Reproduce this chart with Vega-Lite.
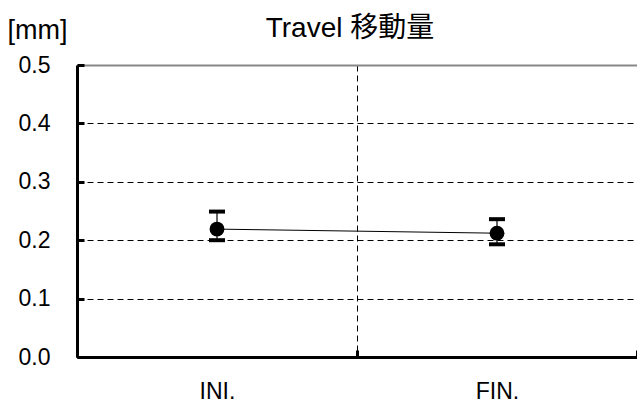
{
  "$schema": "https://vega.github.io/schema/vega-lite/v6.json",
  "width": 560,
  "height": 292,
  "autosize": "none",
  "padding": {"left": 77, "top": 65, "right": 0, "bottom": 55},
  "background": "white",
  "config": {
    "view": {"stroke": null},
    "font": "Liberation Sans, Noto Sans CJK JP",
    "axis": {"labelFont": "Liberation Sans", "titleFont": "Liberation Sans"}
  },
  "title": {
    "text": "Travel 移動量",
    "fontSize": 28,
    "fontWeight": "normal",
    "color": "black",
    "anchor": "middle",
    "offset": -27,
    "dx": -7,
    "font": "Liberation Sans, Noto Sans CJK JP"
  },
  "data": {
    "values": [
      {"stage": "INI.", "mean": 0.219, "lo": 0.200, "hi": 0.249},
      {"stage": "FIN.", "mean": 0.212, "lo": 0.193, "hi": 0.236}
    ]
  },
  "encoding": {
    "x": {
      "field": "stage",
      "type": "nominal",
      "sort": ["INI.", "FIN."],
      "scale": {"type": "band", "paddingInner": 0, "paddingOuter": 0},
      "axis": {
        "title": null,
        "tickBand": "extent",
        "labelAngle": 0,
        "labelFontSize": 23,
        "labelColor": "black",
        "labelPadding": 30,
        "domainColor": "black",
        "domainWidth": 3,
        "ticks": true,
        "tickSize": -7,
        "tickWidth": 3,
        "tickColor": "black",
        "grid": true,
        "gridColor": "black",
        "gridDash": [6, 4],
        "gridWidth": 1,
        "zindex": 1
      }
    }
  },
  "layer": [
    {
      "mark": {"type": "rule", "color": "#666666", "strokeWidth": 2},
      "encoding": {
        "y": {
          "field": "lo",
          "type": "quantitative",
          "scale": {"domain": [0, 0.5], "nice": false},
          "axis": {
            "title": "[mm]",
            "titleAngle": 0,
            "titleX": -40,
            "titleY": -35,
            "titleAlign": "center",
            "titleBaseline": "middle",
            "titleFontSize": 27,
            "titleFontWeight": "normal",
            "titleColor": "black",
            "values": [0, 0.1, 0.2, 0.3, 0.4, 0.5],
            "format": ".1f",
            "labelFontSize": 23,
            "labelColor": "black",
            "labelPadding": 34,
            "labelBaseline": "middle",
            "domainColor": "black",
            "domainWidth": 3,
            "tickSize": -7,
            "tickWidth": 3,
            "tickColor": "black",
            "grid": true,
            "gridColor": {"condition": {"test": "datum.value >= 0.5", "value": "#888888"}, "value": "black"},
            "gridDash": {"condition": {"test": "datum.value >= 0.5", "value": []}, "value": [6, 4]},
            "gridWidth": {"condition": {"test": "datum.value >= 0.5", "value": 2}, "value": 1},
            "zindex": 1
          }
        },
        "y2": {"field": "hi"}
      }
    },
    {
      "mark": {"type": "tick", "orient": "horizontal", "color": "black", "size": 16, "thickness": 4, "opacity": 1},
      "encoding": {"y": {"field": "lo", "type": "quantitative"}}
    },
    {
      "mark": {"type": "tick", "orient": "horizontal", "color": "black", "size": 16, "thickness": 4, "opacity": 1},
      "encoding": {"y": {"field": "hi", "type": "quantitative"}}
    },
    {
      "mark": {"type": "line", "color": "black", "strokeWidth": 1},
      "encoding": {"y": {"field": "mean", "type": "quantitative"}}
    },
    {
      "mark": {"type": "point", "filled": true, "color": "black", "size": 220, "opacity": 1},
      "encoding": {"y": {"field": "mean", "type": "quantitative"}}
    }
  ]
}
